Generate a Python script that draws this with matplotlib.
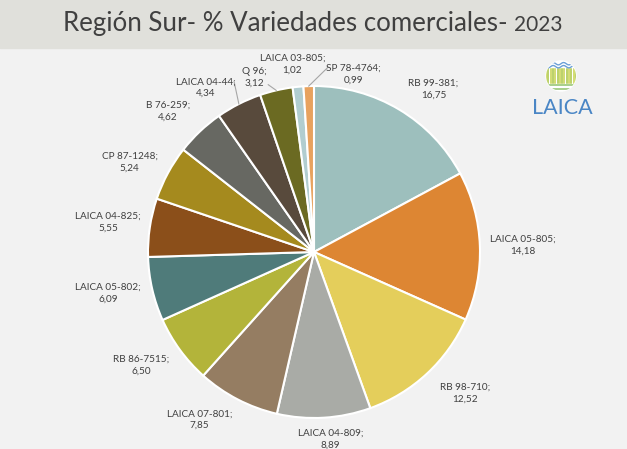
import numpy as np
import matplotlib.pyplot as plt
from matplotlib.patches import Rectangle, Circle

# Datos: % de variedades comerciales, Región Sur 2023
variedades = ['RB 99-381', 'LAICA 05-805', 'RB 98-710', 'LAICA 04-809', 'LAICA 07-801',
              'RB 86-7515', 'LAICA 05-802', 'LAICA 04-825', 'CP 87-1248', 'B 76-259',
              'LAICA 04-44', 'Q 96', 'LAICA 03-805', 'SP 78-4764']
porcentajes = [16.75, 14.18, 12.52, 8.89, 7.85, 6.50, 6.09, 5.55, 5.24, 4.62, 4.34, 3.12, 1.02, 0.99]

colores = ['#9dbfbd', '#dd8633', '#e4ce5b', '#a9aba6', '#957d62', '#b3b43a', '#4f7b7a',
           '#8b4f1a', '#a58a1e', '#676862', '#584a3c', '#6b6a22', '#b1cdd0', '#e8a25e']

# centro de cada etiqueta, en radios del pastel (x, y)
pos_etiquetas = [(0.72, 0.98), (1.26, 0.04), (0.91, -0.85), (0.10, -1.13), (-0.69, -1.01),
                 (-1.04, -0.68), (-1.24, -0.25), (-1.24, 0.18), (-1.11, 0.54), (-0.88, 0.85),
                 (-0.65, 0.99), (-0.36, 1.05), (-0.13, 1.13), (0.24, 1.07)]
# lineas guia: desplazamiento (px) del extremo respecto al centro de la etiqueta
lineas = {'LAICA 04-44': (28, 6), 'Q 96': (14, -7), 'SP 78-4764': (-26, 7)}

W, H = 627, 449
fig = plt.figure(figsize=(W / 100, H / 100), dpi=100)
fig.patch.set_facecolor('#f2f2f2')
ax = fig.add_axes([0, 0, 1, 1])

cx, cy, R = 314, H - 252, 166
wedges, _ = ax.pie(porcentajes, colors=colores, startangle=90, counterclock=False,
                   center=(cx, cy), radius=R, frame=True,
                   wedgeprops=dict(edgecolor='white', linewidth=1.5))
ax.set_xlim(0, W)
ax.set_ylim(0, H)
ax.set_aspect('equal')
ax.axis('off')

# banda del titulo
ax.add_patch(Rectangle((0, H - 48), W, 48, color='#e0e0db', zorder=0))
t = ax.text(63, H - 24, 'Región Sur- % Variedades comerciales- ', fontsize=18.6, color='#404040',
            family='Lato', va='center', ha='left')
ax.annotate('2023', xy=(1, 0), xycoords=t, xytext=(0, 1), textcoords='offset points',
            fontsize=15, color='#404040', family='Lato', va='bottom', ha='left')

fracs = np.array(porcentajes) / sum(porcentajes)
mids = (np.cumsum(fracs) - fracs / 2) * 2 * np.pi

for i, (nombre, val) in enumerate(zip(variedades, porcentajes)):
    px, py = pos_etiquetas[i]
    tx, ty = cx + px * R, cy + py * R
    txt = f'{nombre};\n{val:.2f}'.replace('.', ',')
    ax.text(tx, ty, txt, ha='center', va='center', fontsize=7.2, color='#404040',
            family='Lato', linespacing=1.4)
    if nombre in lineas:
        m = mids[i]
        ex, ey = cx + R * np.sin(m), cy + R * np.cos(m)
        ox, oy = lineas[nombre]
        ax.plot([ex, tx + ox], [ey, ty + oy], color='#a6a6a6', lw=0.8)

# logo LAICA
lx, ly, lr = 561, H - 76, 15
ax.add_patch(Circle((lx, ly), lr, color='white', zorder=3))
logo = Circle((lx, ly), lr, transform=ax.transData)
for k, xs in enumerate(np.linspace(lx - lr, lx + lr, 14)):
    st = ax.plot([xs, xs], [ly - lr * 0.45, ly + lr * 0.5],
                 color='#c6d24c' if k % 2 == 0 else '#a9c541', lw=1.1, zorder=4)[0]
    st.set_clip_path(logo)
xw = np.linspace(lx - lr, lx + lr, 30)
for yy in [ly + lr * 0.62, ly + lr * 0.82]:
    st = ax.plot(xw, yy + 1.2 * np.sin((xw - lx) * 0.6), color='#6b9fd6', lw=1.0, zorder=4)[0]
    st.set_clip_path(logo)
for yy in [ly - lr * 0.62, ly - lr * 0.85]:
    st = ax.plot([lx - lr, lx + lr], [yy, yy], color='#a8cf8a', lw=1.4, zorder=4)[0]
    st.set_clip_path(logo)
ax.text(lx + 1, H - 108, 'LAICA', ha='center', va='center', fontsize=15.5, color='#4a86c5',
        family='Lato')

fig.savefig('out.png', dpi=100, facecolor=fig.get_facecolor())
